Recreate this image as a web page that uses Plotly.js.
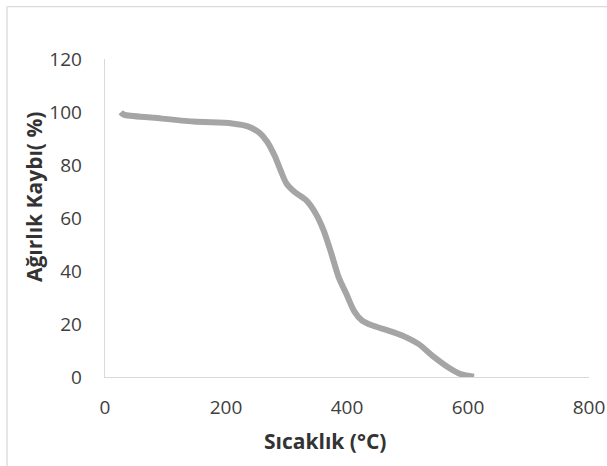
<!DOCTYPE html>
<html>
<head>
<meta charset="utf-8">
<script src="https://cdn.plot.ly/plotly-3.0.1.min.js"></script>
<style>html,body{margin:0;padding:0;background:#fff;}#chart{width:607px;height:466px;}</style>
</head>
<body>
<div id="chart"></div>
<script>
// Temperature (°C)
const temperature = [26, 31, 82, 146, 210, 236, 255, 268, 281, 290, 300, 313, 332, 348, 361, 374, 386, 399, 412, 425, 441, 466, 492, 518, 543, 569, 588, 610];
// Weight (%)
const weight = [99.9, 99.0, 97.8, 96.4, 95.7, 94.6, 92.2, 88.8, 83.2, 78.1, 73.0, 69.9, 66.8, 61.8, 55.5, 46.7, 37.8, 31.3, 24.8, 21.3, 19.5, 17.7, 15.6, 12.5, 7.7, 3.4, 1.1, 0.1];
const xTicks = [0, 200, 400, 600, 800];
const yTicks = [0, 20, 40, 60, 80, 100, 120];
const xTitle = "Sıcaklık (°C)";
const yTitle = "Ağırlık Kaybı( %)";

const trace = {
  x: temperature, y: weight, type: 'scatter', mode: 'lines',
  line: {color: '#A5A5A5', width: 6, shape: 'spline', smoothing: 0.8},
  hoverinfo: 'skip', showlegend: false
};

const tickFont = {family: 'Open Sans, sans-serif', size: 19, color: '#404040'};
const titleFont = {family: 'Open Sans, sans-serif', size: 21, color: '#333333', weight: 'bold'};

const layout = {
  width: 607, height: 466,
  margin: {l: 105, r: 18, t: 59, b: 89},
  paper_bgcolor: '#ffffff', plot_bgcolor: '#ffffff',
  xaxis: {
    range: [0, 800], tickvals: xTicks, ticktext: xTicks.map(String),
    showgrid: false, zeroline: false, showline: true, linecolor: '#D9D9D9', linewidth: 1.3,
    ticks: '', tickfont: tickFont, ticklabelstandoff: 13, fixedrange: true
  },
  yaxis: {
    range: [0, 120], tickvals: yTicks, ticktext: yTicks.map(String),
    showgrid: false, zeroline: false, showline: true, linecolor: '#D9D9D9', linewidth: 1.3,
    ticks: '', tickfont: tickFont, ticklabelstandoff: 18, fixedrange: true
  },
  annotations: [
    {text: xTitle, xref: 'paper', yref: 'paper', x: 0.4545, y: -0.2013, xanchor: 'center', yanchor: 'middle',
     showarrow: false, font: titleFont},
    {text: yTitle, xref: 'paper', yref: 'paper', x: -0.1467, y: 0.566, xanchor: 'center', yanchor: 'middle',
     textangle: -90, showarrow: false, font: titleFont}
  ],
  shapes: [
    {type: 'line', xref: 'paper', yref: 'paper', x0: -0.2025, x1: 1.05, y0: 1.165, y1: 1.165,
     line: {color: '#D9D9D9', width: 1.3}},
    {type: 'line', xref: 'paper', yref: 'paper', x0: -0.2025, x1: -0.2025, y0: 1.165, y1: -0.3,
     line: {color: '#D9D9D9', width: 1.3}}
  ]
};

Plotly.newPlot('chart', [trace], layout, {staticPlot: true, displayModeBar: false});
</script>
</body>
</html>
